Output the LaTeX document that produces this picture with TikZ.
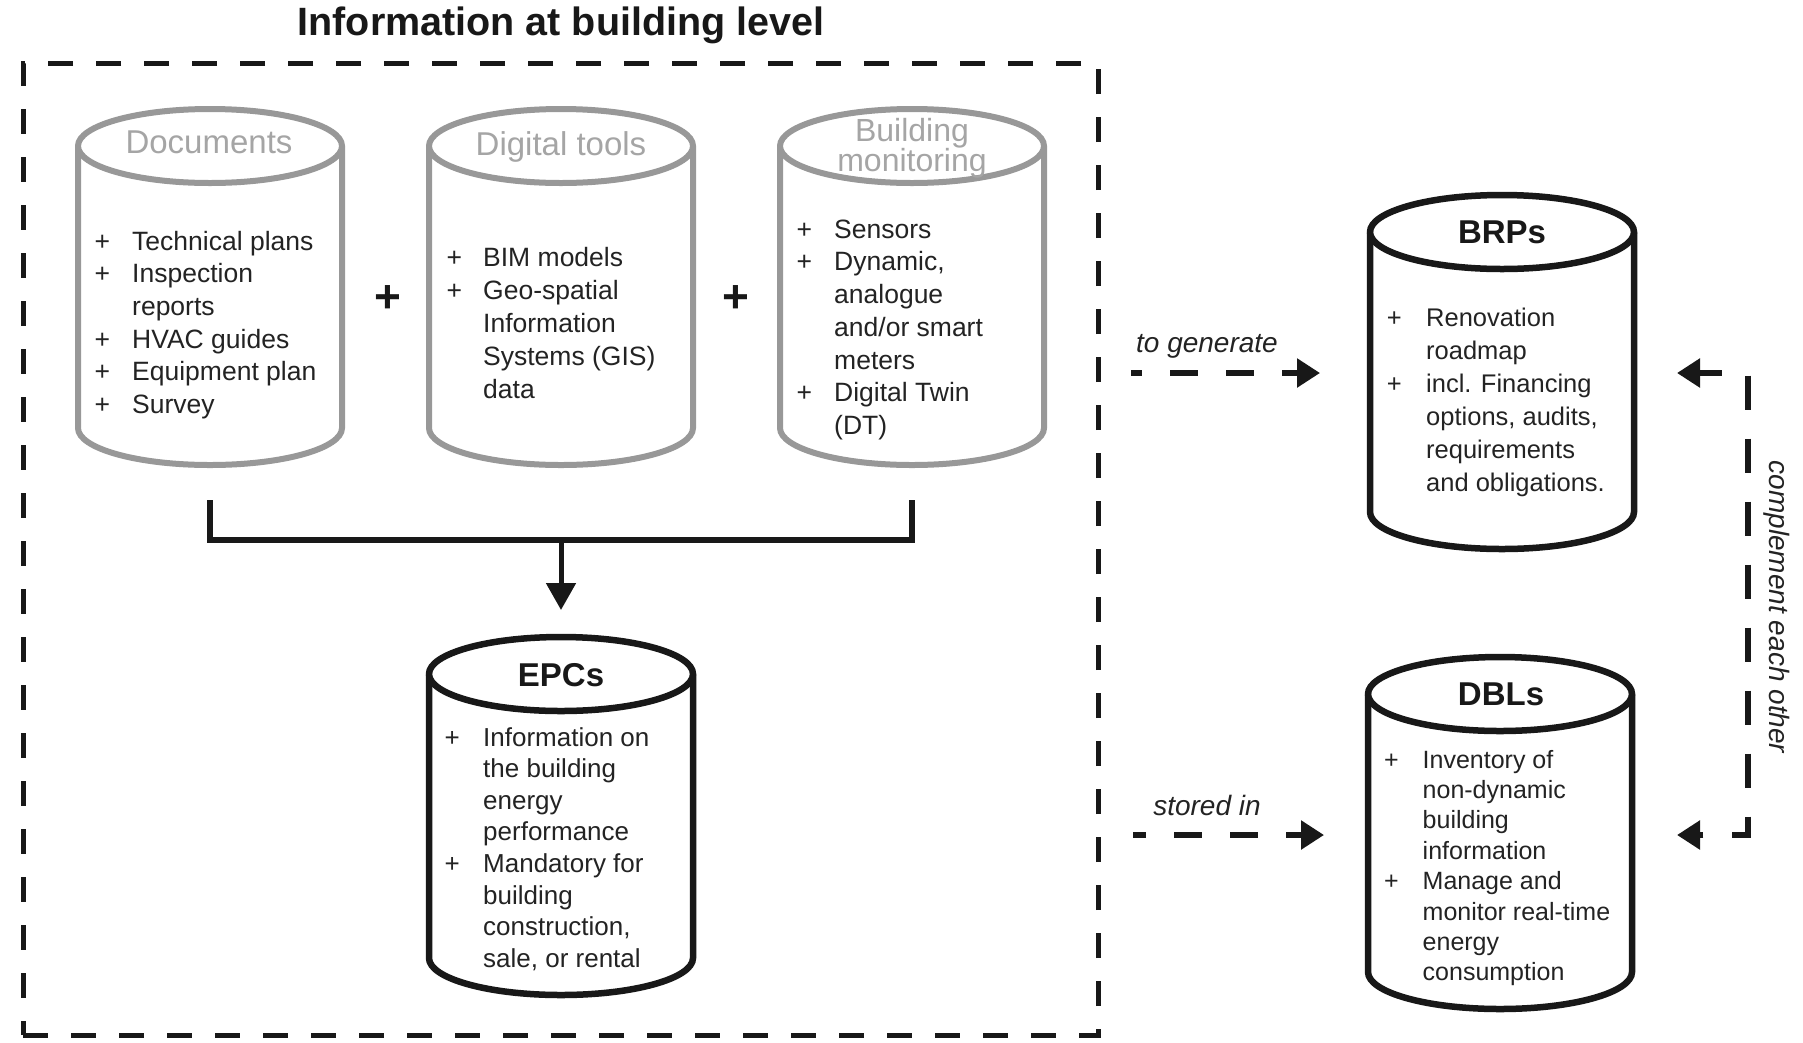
\documentclass[tikz,border=0pt]{standalone}
\usepackage{fontspec}
\setmainfont{Liberation Sans}
\usetikzlibrary{arrows.meta,calc}

\definecolor{rimgray}{RGB}{152,152,152}
\definecolor{ttlgray}{RGB}{165,165,165}
\definecolor{inkdark}{RGB}{24,24,24}
\definecolor{txtdark}{RGB}{35,35,35}

% half axes of the drum outlines
\newcommand{\cylrx}{132}
\newcommand{\cylry}{37}

% #1 name, #2 centre x, #3 top cap centre (px down), #4 bottom cap centre (px down), #5 style
\newcommand{\drawdrum}[5]{%
  \pgfmathsetmacro{\dTop}{-#3}%
  \pgfmathsetmacro{\dBot}{-#4}%
  \pgfmathsetmacro{\dMid}{-(#3+#4)/2}%
  \pgfmathsetmacro{\dH}{#4-#3+2*\cylry}%
  \pgfmathsetmacro{\dW}{2*\cylrx}%
  \draw[#5] (#2-\cylrx,\dTop) -- (#2-\cylrx,\dBot)
    arc[start angle=180,end angle=360,x radius=\cylrx,y radius=\cylry]
    -- (#2+\cylrx,\dTop)
    arc[start angle=0,end angle=180,x radius=\cylrx,y radius=\cylry] -- cycle;
  \draw[#5] (#2-\cylrx,\dTop)
    arc[start angle=180,end angle=360,x radius=\cylrx,y radius=\cylry];
  \node[minimum width=\dW pt, minimum height=\dH pt, inner sep=0pt, outer sep=0pt] (#1) at (#2,\dMid) {};
}

% bullet list: #1 width of the plus column, #2 rows
\newcommand{\pluslist}[2]{\begin{tabular}[t]{@{}p{#1pt}@{}l@{}}#2\end{tabular}}

\begin{document}
\begin{tikzpicture}[x=1pt,y=1pt,
  graydrum/.style={draw=rimgray, line width=6pt, fill=white},
  blackdrum/.style={draw=inkdark, line width=6.5pt, fill=white},
  graytitle/.style={anchor=base, inner sep=0pt, text=ttlgray, font=\fontsize{33}{38}\selectfont},
  blacktitle/.style={anchor=base, inner sep=0pt, text=inkdark, font=\fontsize{33}{40}\selectfont\bfseries},
  bodylist/.style={anchor=base west, inner sep=0pt, text=txtdark},
  joinplus/.style={inner sep=0pt, text=inkdark, font=\fontsize{46}{50}\selectfont\bfseries},
  solidline/.style={draw=inkdark, line width=6pt},
  dasharrow/.style={draw=inkdark, line width=5.5pt, dash pattern=on 28pt off 28pt},
  arrowlabel/.style={inner sep=0pt, text=txtdark, font=\fontsize{28}{32}\selectfont\itshape},
  headsmall/.style={-{Triangle[length=23pt,width=28pt]}}
]
\fill[white] (0,0) rectangle (1803,-1042);
\useasboundingbox (0,0) rectangle (1803,-1042);

% heading and dashed frame
\node[anchor=base, inner sep=0pt, text=inkdark, font=\fontsize{39.5}{44}\selectfont\bfseries] (title) at (561,-35) {Information at building level};
\node[draw=inkdark, line width=5pt, dash pattern=on 25pt off 23pt, minimum width=1075pt, minimum height=972pt, inner sep=0pt, outer sep=0pt] (levelbox) at (560.5,-549) {};

% source drums
\drawdrum{docs}{210}{146}{428}{graydrum}
\drawdrum{tools}{561}{146}{428}{graydrum}
\drawdrum{mon}{912}{146}{428}{graydrum}
% result drums
\drawdrum{epc}{561}{674}{958}{blackdrum}
\drawdrum{brp}{1502}{232}{512}{blackdrum}
\drawdrum{dbl}{1500}{694}{972}{blackdrum}

% drum headings
\node[graytitle] (docstitle) at (209,-153) {Documents};
\node[graytitle] (toolstitle) at (561,-155) {Digital tools};
\node[graytitle, font=\fontsize{32}{38}\selectfont] (montitleA) at (912,-141) {Building};
\node[graytitle, font=\fontsize{32}{38}\selectfont] (montitleB) at (912,-171) {monitoring};
\node[blacktitle] (epctitle) at (561,-686) {EPCs};
\node[blacktitle] (brptitle) at (1502,-243) {BRPs};
\node[blacktitle] (dbltitle) at (1501,-705) {DBLs};

% drum contents
\node[bodylist, font=\fontsize{26.5}{32.7}\selectfont] (docslist) at (94.5,-250) {\pluslist{37.5}{%
+ & Technical plans\\
+ & Inspection\\
  & reports\\
+ & HVAC guides\\
+ & Equipment plan\\
+ & Survey}};
\node[bodylist, font=\fontsize{26.5}{33}\selectfont] (toolslist) at (446.5,-266) {\pluslist{36.5}{%
+ & BIM models\\
+ & Geo-spatial\\
  & Information\\
  & Systems (GIS)\\
  & data}};
\node[bodylist, font=\fontsize{26.5}{32.75}\selectfont] (monlist) at (796.5,-238) {\pluslist{37.5}{%
+ & Sensors\\
+ & Dynamic,\\
  & analogue\\
  & and/or smart\\
  & meters\\
+ & Digital Twin\\
  & (DT)}};
\node[bodylist, font=\fontsize{26}{31.6}\selectfont] (epclist) at (444.5,-746) {\pluslist{38.5}{%
+ & Information on\\
  & the building\\
  & energy\\
  & performance\\
+ & Mandatory for\\
  & building\\
  & construction,\\
  & sale, or rental}};
\node[bodylist, font=\fontsize{25.5}{33}\selectfont] (brplist) at (1386.6,-326) {\pluslist{39.4}{%
+ & Renovation\\
  & roadmap\\
+ & incl. Financing\\
  & options, audits,\\
  & requirements\\
  & and obligations.}};
\node[bodylist, font=\fontsize{25}{30.4}\selectfont] (dbllist) at (1384,-768) {\pluslist{38.5}{%
+ & Inventory of\\
  & non-dynamic\\
  & building\\
  & information\\
+ & Manage and\\
  & monitor real-time\\
  & energy\\
  & consumption}};

% plus signs between the sources
\node[joinplus] (plusA) at (387.5,-299) {+};
\node[joinplus] (plusB) at (736,-299) {+};

% sources merge into the EPCs
\draw[solidline, line join=miter] ([yshift=-35pt]docs.south) -- ++(0,-40) -| ([yshift=-35pt]mon.south);
\draw[solidline, line width=5pt, -{Triangle[length=27pt,width=29pt]}] ([yshift=-75pt]tools.south) -- ([yshift=27pt]epc.north);

% links to the right-hand drums
\coordinate (genfrom) at (1131,-373);
\coordinate (storefrom) at (1133,-835);
\draw[dasharrow, dash phase=17pt, headsmall] (genfrom) -- ($(genfrom -| brp.west)+(-50,0)$);
\draw[dasharrow, dash phase=15pt, headsmall] (storefrom) -- ($(storefrom -| dbl.west)+(-44,0)$);
\draw[dasharrow, dash pattern=on 34pt off 29pt, dash phase=11pt,
      {Triangle[length=23pt,width=28pt]}-{Triangle[length=23pt,width=28pt]}]
  ($(genfrom -| brp.east)+(43,0)$) -- ++(71,0) |- ($(storefrom -| dbl.east)+(45,0)$);

\node[arrowlabel, anchor=base] (gentext) at (1207,-352) {to generate};
\node[arrowlabel, anchor=base] (storetext) at (1207,-815) {stored in};
\node[arrowlabel, rotate=-90] (comptext) at (1777,-607) {complement each other};
\end{tikzpicture}
\end{document}
